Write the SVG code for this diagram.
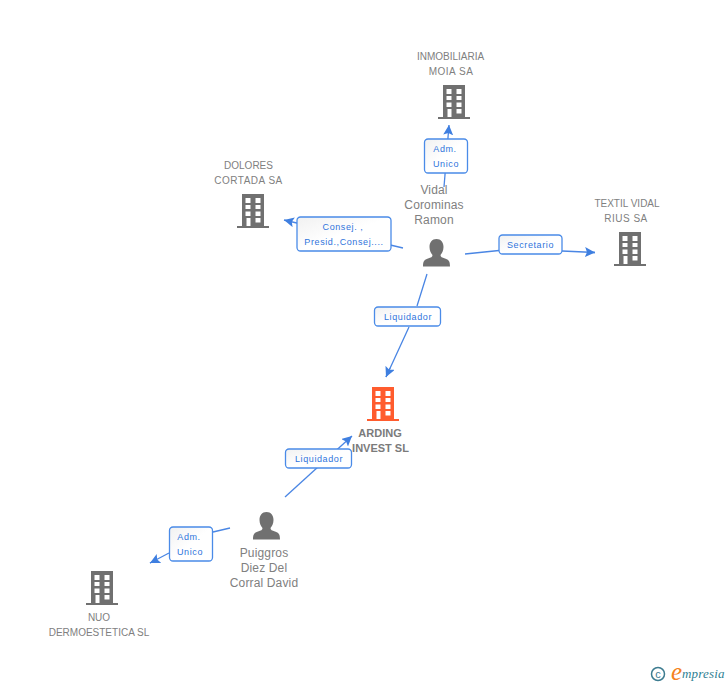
<svg xmlns="http://www.w3.org/2000/svg" width="728" height="685" viewBox="0 0 728 685">
<style>
text{font-family:"Liberation Sans",Arial,sans-serif}
.n{font-size:10px;fill:#808080;text-anchor:middle}
.w{letter-spacing:.5px}
.p{font-size:12px;fill:#808080;text-anchor:middle;letter-spacing:.15px}
.b{font-size:11px;font-weight:bold;fill:#7b7b7b;text-anchor:middle}
.l{font-size:9px;fill:#2f74dc;text-anchor:middle;letter-spacing:.6px}
.c{fill:none;stroke:#4a86e4;stroke-width:1.3}
.box{fill:url(#g);stroke:#4a8be8;stroke-width:1.3}
</style>
<defs>
<linearGradient id="g" x1="0" y1="0" x2="1" y2="1"><stop offset="0" stop-color="#f1f1f1"/><stop offset=".5" stop-color="#fff"/></linearGradient>
<marker id="a" markerUnits="userSpaceOnUse" markerWidth="11" markerHeight="11" refX="10" refY="5" orient="auto"><path d="M0 0L10 5L0 10L2 5Z" fill="#3f7fe0"/></marker>
<symbol id="bld" overflow="visible"><path fill-rule="evenodd" d="M0 0H22V32H27V34H-5V32H0ZM3.500 4V9H8.500V4ZM13.500 4V9H18.500V4ZM3.500 11V15H8.500V11ZM13.500 11V15H18.500V11ZM3.500 17.500V22H8.500V17.500ZM13.500 17.500V22H18.500V17.500ZM4.500 24V32H8.500V24ZM13.500 24V28.500H18.500V24Z"/></symbol>
<symbol id="per" overflow="visible"><path d="M13.500 0C18 0 20.500 3.500 20.500 8C20.500 11.500 19 14.500 17.500 16C17.500 18 19 18.500 22 19.500C25.500 20.700 27 22 27 27.500H0C0 22 1.500 20.700 5 19.500C8 18.500 9.500 18 9.500 16C8 14.500 6.500 11.500 6.500 8C6.500 3.500 9 0 13.500 0Z"/></symbol>
</defs>
<g id="connectors">
<path class="c" d="M444 187L449 125" marker-end="url(#a)"/>
<path class="c" d="M403 248L284 220" marker-end="url(#a)"/>
<path class="c" d="M465 254L499 250.500M562 251L595 252.500" />
<path class="c" d="M590 252.300L595 252.500" marker-end="url(#a)"/>
<path class="c" d="M427 274L417 306M409 327L386 377"/>
<path class="c" d="M390 368L386 377" marker-end="url(#a)"/>
<path class="c" d="M285 497L352 436" marker-end="url(#a)"/>
<path class="c" d="M230 528L213 532M169 553L150 563" />
<path class="c" d="M155 560.500L150 563" marker-end="url(#a)"/>
</g>
<g id="node-inmobiliaria"><use href="#bld" x="443" y="85" fill="#707070"/><text class="n" x="450.500" y="60">INMOBILIARIA</text><text class="n w" x="451" y="75">MOIA SA</text></g>
<g id="node-dolores"><use href="#bld" x="242" y="194" fill="#707070"/><text class="n" x="248.500" y="169">DOLORES</text><text class="n w" x="248.500" y="184">CORTADA SA</text></g>
<g id="node-textil"><use href="#bld" x="619" y="232" fill="#707070"/><text class="n" x="627" y="207">TEXTIL VIDAL</text><text class="n w" x="626" y="222">RIUS SA</text></g>
<g id="node-arding"><use href="#bld" x="372" y="387" fill="#ff5c2e"/><text class="b" x="380" y="437">ARDING</text><text class="b" x="380.500" y="452">INVEST SL</text></g>
<g id="node-nuo"><use href="#bld" x="91" y="571" fill="#707070"/><text class="n" x="99" y="621">NUO</text><text class="n" x="99" y="636">DERMOESTETICA SL</text></g>
<g id="node-vidal"><use href="#per" x="423" y="239" fill="#707070"/><text class="p" x="434" y="194">Vidal</text><text class="p" x="434" y="209">Corominas</text><text class="p" x="434" y="224">Ramon</text></g>
<g id="node-puiggros"><use href="#per" x="253" y="512" fill="#707070"/><text class="p" x="264" y="557">Puiggros</text><text class="p" x="264" y="572">Diez Del</text><text class="p" x="264" y="587">Corral David</text></g>
<g id="label-adm1"><rect class="box" x="424.500" y="139" width="43" height="34" rx="3.500"/><text class="l" x="445" y="152">Adm.</text><text class="l" x="446" y="167">Unico</text></g>
<g id="label-consej"><rect class="box" x="297" y="217" width="94" height="34" rx="3.500"/><text class="l" x="343" y="230">Consej. ,</text><text class="l" x="344" y="245">Presid.,Consej....</text></g>
<g id="label-secretario"><rect class="box" x="499" y="235" width="63" height="19" rx="3.500"/><text class="l" x="530.500" y="248">Secretario</text></g>
<g id="label-liq1"><rect class="box" x="374.500" y="307" width="66" height="19" rx="3.500"/><text class="l" x="408" y="320">Liquidador</text></g>
<g id="label-liq2"><rect class="box" x="285.500" y="449" width="66" height="19" rx="3.500"/><text class="l" x="319" y="462">Liquidador</text></g>
<g id="label-adm2"><rect class="box" x="169.500" y="527" width="43" height="34" rx="3.500"/><text class="l" x="189" y="540">Adm.</text><text class="l" x="190" y="555">Unico</text></g>
<g id="logo"><circle cx="658" cy="674" r="6.500" fill="none" stroke="#3d7c90" stroke-width="1.500"/><text x="658" y="678" font-size="11" fill="#3d7c90" text-anchor="middle">c</text><text x="671" y="680" font-size="25" font-style="italic" fill="#f58220" style="font-family:'Liberation Serif',serif">e</text><text x="682" y="678" font-size="13" font-style="italic" fill="#2f7f93" letter-spacing=".2" style="font-family:'Liberation Serif',serif">mpresia</text></g>
</svg>
